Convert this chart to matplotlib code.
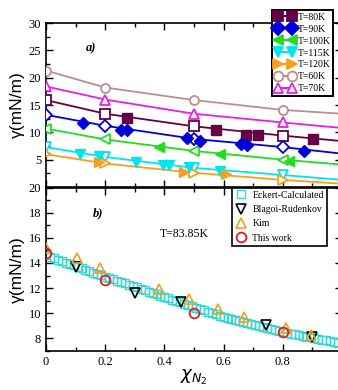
import matplotlib
matplotlib.use("Agg")
import matplotlib.pyplot as plt
import numpy as np
from matplotlib.lines import Line2D
from matplotlib.ticker import MultipleLocator

# ---- panel a) data ----
x_line = [0, 0.2, 0.5, 0.8, 1.0]
labels_a = ["T=80K", "T=90K", "T=100K", "T=115K", "T=120K", "T=60K", "T=70K"]
colors_a = ["#660044", "#0000dd", "#22dd22", "#00e5ee", "#f5a020", "#bc8f8f", "#e620e6"]
markers_a = ["s", "D", "<", "v", ">", "o", "^"]
y80 = [15.9, 13.4, 11.1, 9.4, 8.4]
y90 = [13.2, 11.2, 8.8, 7.3, 6.1]
y100 = [10.7, 8.7, 6.6, 5.0, 4.1]
y115 = [7.3, 5.5, 3.5, 2.2, 1.3]
y120 = [6.0, 4.3, 2.6, 1.3, 0.6]
y60 = [21.3, 18.2, 15.9, 14.1, 13.4]
y70 = [18.4, 16.0, 13.4, 11.8, 10.8]
lines_a = [y80, y90, y100, y115, y120, y60, y70]

# filled points (no line)
fx80 = [0.272, 0.573, 0.676, 0.717, 0.903]
fy80 = [12.7, 10.4, 9.6, 9.6, 8.7]
fx90 = [0.126, 0.254, 0.274, 0.476, 0.519, 0.658, 0.679, 0.872]
fy90 = [11.7, 10.5, 10.5, 8.9, 8.5, 7.8, 7.7, 6.6]
fx100 = [0.382, 0.587, 0.822]
fy100 = [7.3, 6.0, 4.8]
fx115 = [0.115, 0.18, 0.303, 0.396, 0.416, 0.483, 0.587]
fy115 = [6.1, 5.7, 4.6, 4.1, 4.0, 3.7, 2.9]
fx120 = [0.178, 0.465, 0.609]
fy120 = [4.6, 2.8, 2.3]
filled_x = [fx80, fx90, fx100, fx115, fx120]
filled_y = [fy80, fy90, fy100, fy115, fy120]

# ---- panel b) data ----
eck_x = np.arange(75) / 75.0
eck_y = [14.60, 14.49, 14.37, 14.26, 14.15, 14.03, 13.92, 13.81, 13.69, 13.58,
         13.47, 13.35, 13.24, 13.13, 13.01, 12.90, 12.79, 12.69, 12.58, 12.47,
         12.37, 12.26, 12.15, 12.05, 11.94, 11.83, 11.73, 11.62, 11.51, 11.41,
         11.30, 11.19, 11.09, 10.98, 10.87, 10.77, 10.66, 10.55, 10.45, 10.34,
         10.23, 10.13, 10.02, 9.91, 9.81, 9.70, 9.62, 9.54, 9.46, 9.38,
         9.30, 9.22, 9.14, 9.06, 8.98, 8.90, 8.82, 8.74, 8.66, 8.58,
         8.50, 8.44, 8.38, 8.32, 8.26, 8.20, 8.14, 8.08, 8.02, 7.96,
         7.90, 7.84, 7.78, 7.72, 7.66]
br_x = [0.101, 0.299, 0.456, 0.742, 0.897]
br_y = [13.7, 11.6, 10.9, 9.05, 8.15]
kim_x = [0.0, 0.106, 0.184, 0.382, 0.483, 0.582, 0.67, 0.811, 0.894]
kim_y = [15.2, 14.4, 13.6, 11.9, 11.1, 10.3, 9.7, 8.8, 8.3]
tw_x = [0.0, 0.2, 0.5, 0.8]
tw_y = [14.8, 12.65, 10.05, 8.5]

serif = "Liberation Serif"
fig = plt.figure(figsize=(3.38, 3.90), dpi=100)
W, H = 338.0, 390.0
ax1 = fig.add_axes([46 / W, 1 - 187 / H, 296 / W, 164 / H])
ax2 = fig.add_axes([46 / W, 1 - 351 / H, 296 / W, 163.5 / H])

# panel a
for i in range(7):
    ax1.plot(x_line, lines_a[i], color=colors_a[i], lw=1.3, marker=markers_a[i],
             markevery=[0, 1, 2, 3], ms=6.5, mfc="white", mec=colors_a[i], mew=1.3, zorder=3)
for i in range(5):
    ax1.plot(filled_x[i], filled_y[i], ls="none", marker=markers_a[i], ms=6.5,
             color=colors_a[i], zorder=4)

handles = []
for i in range(7):
    face = colors_a[i] if i < 5 else "white"
    handles.append(Line2D([], [], color=colors_a[i], lw=1.5, marker=markers_a[i], ms=7,
                          mfc=face, mec=colors_a[i], mew=1.3))
leg = ax1.legend(handles, labels_a, loc="upper left", bbox_to_anchor=(0.764, 1.08),
                 borderaxespad=0, numpoints=2, fancybox=False, framealpha=1,
                 edgecolor="black", handlelength=2.0, handletextpad=0.3,
                 labelspacing=0.3, borderpad=0.3, prop={"family": serif, "size": 7})
leg.get_frame().set_linewidth(1.4)

ax1.set_xlim(0, 1)
ax1.set_ylim(0, 30)
ax1.set_yticks([5, 10, 15, 20, 25, 30])
ax1.yaxis.set_minor_locator(MultipleLocator(2.5))
ax1.xaxis.set_major_locator(MultipleLocator(0.2))
ax1.xaxis.set_minor_locator(MultipleLocator(0.1))
ax1.set_xticklabels([])
ax1.text(0.135, 0.848, "a)", transform=ax1.transAxes, fontfamily=serif,
         fontstyle="italic", fontweight="bold", fontsize=9, ha="left", va="center")

# panel b
ax2.plot(eck_x, eck_y, ls="none", marker="s", ms=6, mfc="none", mec="#40d4d0",
         mew=1.0, zorder=2, label="Eckert-Calculated")
ax2.plot(br_x, br_y, ls="none", marker="v", ms=7, mfc="none", mec="black",
         mew=1.2, zorder=3, label="Blagoi-Rudenkov")
ax2.plot(kim_x, kim_y, ls="none", marker="^", ms=7, mfc="none", mec="#f0a020",
         mew=1.2, zorder=3, label="Kim")
ax2.plot(tw_x, tw_y, ls="none", marker="o", ms=7, mfc="none", mec="#dd2020",
         mew=1.3, zorder=4, label="This work")
leg2 = ax2.legend(loc="upper left", bbox_to_anchor=(0.628, 0.998), borderaxespad=0,
                  numpoints=1, fancybox=False, framealpha=1, edgecolor="black",
                  handlelength=1.2, handletextpad=0.6, labelspacing=0.55,
                  borderpad=0.3, prop={"family": serif, "size": 7})
leg2.get_frame().set_linewidth(1.2)

ax2.set_xlim(0, 1)
ax2.set_ylim(7, 20)
ax2.set_yticks([8, 10, 12, 14, 16, 18, 20])
ax2.yaxis.set_minor_locator(MultipleLocator(1))
ax2.set_xticks([0, 0.2, 0.4, 0.6, 0.8, 1.0])
ax2.set_xticklabels(["0", "0.2", "0.4", "0.6", "0.8", ""])
ax2.xaxis.set_minor_locator(MultipleLocator(0.1))
ax2.text(0.159, 0.845, "b)", transform=ax2.transAxes, fontfamily=serif,
         fontstyle="italic", fontweight="bold", fontsize=9, ha="left", va="center")
ax2.text(0.385, 0.716, "T=83.85K", transform=ax2.transAxes, fontfamily=serif,
         fontsize=8.5, ha="left", va="center")
ax2.set_xlabel(r"$\chi_{N_2}$", fontsize=13, labelpad=0)

for ax in (ax1, ax2):
    ax.tick_params(which="both", direction="in", top=True, right=True, width=1.0)
    ax.tick_params(which="major", length=5, labelsize=9)
    ax.tick_params(which="minor", length=3)
    for lab in ax.get_xticklabels() + ax.get_yticklabels():
        lab.set_fontfamily(serif)
    for s in ax.spines.values():
        s.set_linewidth(1.2)
    ax.set_ylabel("γ(mN/m)", fontsize=12.5, fontfamily="Liberation Sans")
    ax.yaxis.set_label_coords(-0.07, 0.5)

fig.savefig("out.png", dpi=100)
